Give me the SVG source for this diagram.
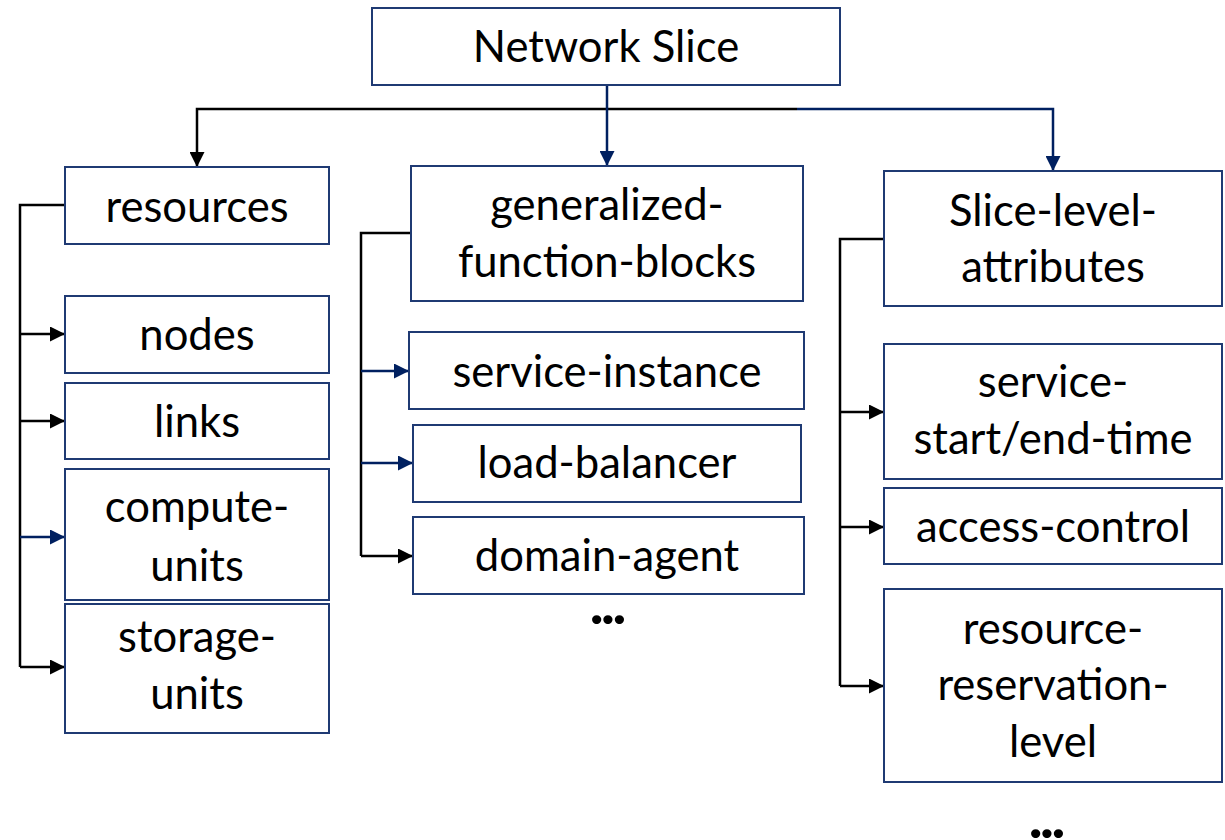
<svg xmlns="http://www.w3.org/2000/svg" width="1225" height="840" viewBox="0 0 1225 840">
<style>
.box{fill:#fff;stroke:#1F3A73;stroke-width:2}
.t{font-family:Lato,"Open Sans",sans-serif;font-size:43.6px;fill:#000;text-anchor:middle}
.k{fill:none;stroke:#000;stroke-width:2.5}
.b{fill:none;stroke:#002060;stroke-width:2.5}
.dots{font-family:Lato,sans-serif;font-size:56px;font-weight:900;letter-spacing:-2px;fill:#000;text-anchor:middle}
</style>
<defs>
<marker id="ak" markerUnits="userSpaceOnUse" markerWidth="15" markerHeight="15" refX="15" refY="7.5" orient="auto"><path d="M0,0 L15,7.5 L0,15 z" fill="#000"/></marker>
<marker id="ab" markerUnits="userSpaceOnUse" markerWidth="15" markerHeight="15" refX="15" refY="7.5" orient="auto"><path d="M0,0 L15,7.5 L0,15 z" fill="#002060"/></marker>
</defs>
<g id="connectors">
<path class="k" d="M797,109 H197 V167" marker-end="url(#ak)"/>
<path class="b" d="M797,109 H1053 V171" marker-end="url(#ab)"/>
<path class="b" d="M607,85 V166" marker-end="url(#ab)"/>
<path class="k" d="M66,205 H20 V667"/>
<path class="k" d="M20,334 H65" marker-end="url(#ak)"/>
<path class="k" d="M20,421 H65" marker-end="url(#ak)"/>
<path class="b" d="M20,537 H65" marker-end="url(#ab)"/>
<path class="k" d="M20,667 H65" marker-end="url(#ak)"/>
<path class="k" d="M411,233 H361 V556"/>
<path class="b" d="M361,371 H409" marker-end="url(#ab)"/>
<path class="b" d="M361,463 H413" marker-end="url(#ab)"/>
<path class="k" d="M361,556 H413" marker-end="url(#ak)"/>
<path class="k" d="M885,239 H840 V686"/>
<path class="k" d="M840,412 H884" marker-end="url(#ak)"/>
<path class="k" d="M840,527 H884" marker-end="url(#ak)"/>
<path class="k" d="M840,686 H884" marker-end="url(#ak)"/>
</g>
<g id="network-slice"><rect class="box" x="372" y="8" width="468" height="77"/><text class="t" x="606" y="62">Network Slice</text></g>
<g id="resources"><rect class="box" x="65" y="167" width="264" height="77"/><text class="t" x="197" y="222">resources</text></g>
<g id="nodes"><rect class="box" x="65" y="296" width="264" height="77"/><text class="t" x="197" y="350">nodes</text></g>
<g id="links"><rect class="box" x="65" y="383" width="264" height="76"/><text class="t" x="197" y="437">links</text></g>
<g id="compute-units"><rect class="box" x="65" y="469" width="264" height="131"/><text class="t" x="197" y="522">compute-</text><text class="t" x="197" y="581">units</text></g>
<g id="storage-units"><rect class="box" x="65" y="604" width="264" height="129"/><text class="t" x="197" y="652">storage-</text><text class="t" x="197" y="709">units</text></g>
<g id="generalized-function-blocks"><rect class="box" x="411" y="166" width="392" height="135"/><text class="t" x="607" y="220">generalized-</text><text class="t" x="607" y="277">function-blocks</text></g>
<g id="service-instance"><rect class="box" x="409" y="332" width="395" height="77"/><text class="t" x="607" y="387">service-instance</text></g>
<g id="load-balancer"><rect class="box" x="413" y="425" width="388" height="77"/><text class="t" x="607" y="478">load-balancer</text></g>
<g id="domain-agent"><rect class="box" x="413" y="517" width="391" height="77"/><text class="t" x="607" y="571">domain-agent</text></g>
<text class="dots" x="607" y="624">...</text>
<g id="slice-level-attributes"><rect class="box" x="884" y="171" width="338" height="135"/><text class="t" x="1053" y="226">Slice-level-</text><text class="t" x="1053" y="282">attributes</text></g>
<g id="service-start-end-time"><rect class="box" x="884" y="344" width="338" height="135"/><text class="t" x="1053" y="397">service-</text><text class="t" x="1053" y="454">start/end-time</text></g>
<g id="access-control"><rect class="box" x="884" y="488" width="338" height="76"/><text class="t" x="1053" y="542">access-control</text></g>
<g id="resource-reservation-level"><rect class="box" x="884" y="589" width="338" height="193"/><text class="t" x="1053" y="644">resource-</text><text class="t" x="1053" y="700">reservation-</text><text class="t" x="1053" y="757">level</text></g>
<text class="dots" x="1046" y="838">...</text>
</svg>
